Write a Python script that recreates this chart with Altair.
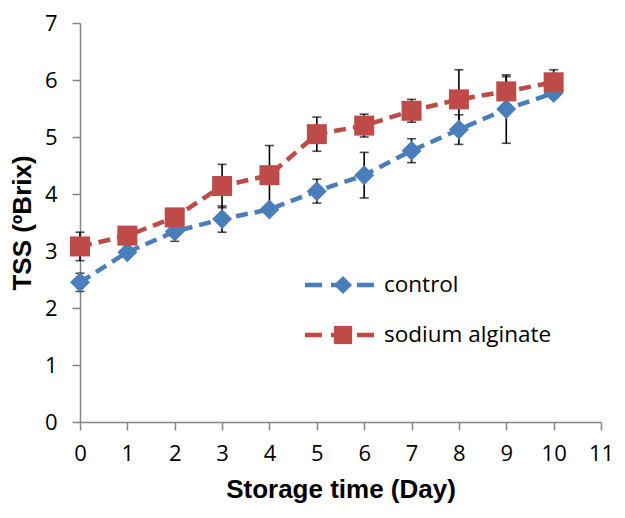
import altair as alt
import pandas as pd

days = list(range(11))
control = [2.45, 2.98, 3.34, 3.56, 3.73, 4.05, 4.33, 4.76, 5.13, 5.49, 5.77]
control_err = [0.16, 0.08, 0.17, 0.23, 0.08, 0.21, 0.4, 0.21, 0.26, 0.6, 0.08]
alginate = [3.08, 3.27, 3.59, 4.14, 4.33, 5.05, 5.2, 5.46, 5.66, 5.8, 5.96]
alginate_err = [0.25, 0.1, 0.12, 0.38, 0.52, 0.3, 0.2, 0.2, 0.52, 0.26, 0.22]

series_names = ["control", "sodium alginate"]
colors = ["#4A7EBB", "#BE4B48"]
shapes = ["diamond", "square"]
x_ticks = list(range(12))
y_ticks = list(range(8))

rows = []
for name, vals, errs in [(series_names[0], control, control_err), (series_names[1], alginate, alginate_err)]:
    for d, v, e in zip(days, vals, errs):
        rows.append({"day": d, "tss": v, "lo": v - e, "hi": v + e, "series": name})
df = pd.DataFrame(rows)
legend_df = pd.DataFrame({"series": series_names})

axis_color = "#868686"
x_axis = alt.Axis(values=x_ticks, title="Storage time (Day)", grid=False, tickSize=8,
                  tickColor=axis_color, tickWidth=1.5, domainColor=axis_color, domainWidth=1.5,
                  labelFont="Open Sans", labelFontSize=22, labelColor="black", labelPadding=13,
                  labelFlush=False, labelOverlap=False,
                  titleFont="Liberation Sans", titleFontSize=26, titleFontWeight="bold",
                  titleColor="black", titlePadding=12)
y_axis = alt.Axis(values=y_ticks, title="TSS (ºBrix)", grid=False, tickSize=8,
                  tickColor=axis_color, tickWidth=1.5, domainColor=axis_color, domainWidth=1.5,
                  labelFont="Open Sans", labelFontSize=22, labelColor="black", labelPadding=15,
                  labelFlush=False, labelOverlap=False,
                  titleFont="Liberation Sans", titleFontSize=26, titleFontWeight="bold",
                  titleColor="black", titlePadding=9)
x_scale = alt.Scale(domain=[0, 11], nice=False, zero=False)
y_scale = alt.Scale(domain=[0, 7], nice=False, zero=False)

X = alt.X("day:Q", scale=x_scale, axis=x_axis)

base = alt.Chart(df)
layers = [
    base.mark_rule(color="black", strokeWidth=1.6).encode(
        x=X, y=alt.Y("lo:Q", scale=y_scale, axis=y_axis), y2="hi:Q"),
    base.mark_tick(orient="horizontal", size=9, thickness=1.6, color="black").encode(
        x=X, y=alt.Y("lo:Q", scale=y_scale, axis=y_axis)),
    base.mark_tick(orient="horizontal", size=9, thickness=1.6, color="black").encode(
        x=X, y=alt.Y("hi:Q", scale=y_scale, axis=y_axis)),
]

for i, name in enumerate(series_names):
    sub = base.transform_filter(alt.datum.series == name)
    layers.append(sub.mark_line(color=colors[i], strokeWidth=4.5, strokeDash=[12, 7]).encode(
        x=X, y=alt.Y("tss:Q", scale=y_scale, axis=y_axis)))
    layers.append(sub.mark_point(shape=shapes[i], filled=True, opacity=1, size=400,
                                 color=colors[i]).encode(
        x=X, y=alt.Y("tss:Q", scale=y_scale, axis=y_axis)))

leg_base = alt.Chart(legend_df)
for i, name in enumerate(series_names):
    ly = 262 + 50 * i
    sub = leg_base.transform_filter(alt.datum.series == name)
    layers.append(sub.mark_rule(color=colors[i], strokeWidth=4.5, strokeDash=[17, 9]).encode(
        x=alt.value(225), x2=alt.value(297), y=alt.value(ly)))
    layers.append(sub.mark_point(shape=shapes[i], filled=True, opacity=1, size=330,
                                 color=colors[i]).encode(
        x=alt.value(263), y=alt.value(ly)))
    layers.append(sub.mark_text(align="left", baseline="middle", font="Open Sans",
                                fontSize=22.5, color="black").encode(
        x=alt.value(304), y=alt.value(ly), text="series:N"))

chart = alt.layer(*layers).properties(
    width=521, height=399,
    autosize=alt.AutoSizeParams(type="none"),
    padding={"left": 72, "top": 15, "right": 16, "bottom": 84},
).configure_view(stroke=None)

chart.save("out.html", embed_options={"renderer": "svg", "actions": False})
